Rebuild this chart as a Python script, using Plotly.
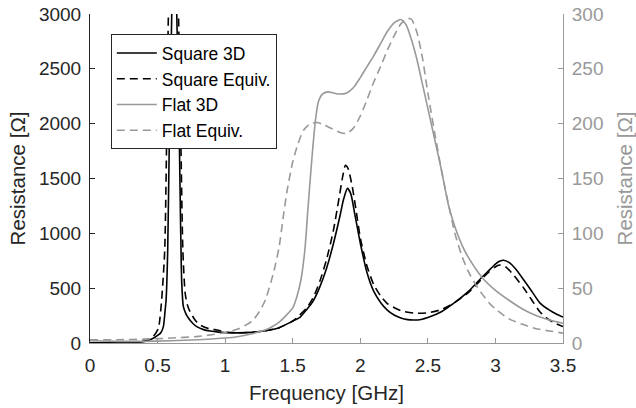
import plotly.graph_objects as go

# ---------------- data ----------------
sq3d_f = [0.0,0.1,0.2,0.3,0.36,0.395,0.44,0.48,0.506,0.525,0.543,0.556,0.563,0.575,0.587,
          0.605,0.614,0.623,0.632,0.642,0.661,0.670,0.679,0.691,0.71,0.728,0.76,0.79,0.84,0.89,
          0.95,1.01,1.1,1.2,1.3,1.4,1.5,1.556,1.6,1.65,1.7,1.75,1.8,1.85,1.875,
          1.905,1.93,1.96,2.0,2.05,2.1,2.15,2.2,2.25,2.3,2.35,2.4,2.45,2.5,2.6,
          2.7,2.8,2.9,2.95,3.0,3.03,3.06,3.1,3.15,3.21,3.27,3.33,3.4,3.45,3.5]
sq3d_r = [2,2,3,4,6,12,27,52,73,95,149,300,392,848,1851,
          3000,4200,4800,4200,3000,1851,1100,544,331,265,228,180,149,122,109,
          99,94,92,97,112,140,200,237,300,380,510,680,900,1160,1304,
          1410,1360,1170,912,640,470,370,300,255,228,213,210,215,232,285,
          370,470,600,660,720,745,755,735,675,574,470,364,300,265,237]

sqeq_f = [0.0,0.1,0.2,0.3,0.36,0.42,0.47,0.506,0.53,0.553,0.567,0.58,0.6,0.617,0.635,
          0.655,0.672,0.687,0.704,0.72,0.74,0.78,0.815,0.88,0.94,1.01,1.1,1.2,1.3,1.4,
          1.5,1.6,1.65,1.7,1.75,1.8,1.84,1.87,1.89,1.91,1.94,1.97,2.0,2.05,2.1,
          2.15,2.2,2.3,2.4,2.5,2.6,2.7,2.8,2.9,2.95,3.0,3.03,3.07,3.12,3.21,
          3.27,3.33,3.4,3.45,3.5]
sqeq_r = [2,2,3,4,7,27,64,134,392,848,1851,3000,4300,5000,4300,
          3000,1851,848,456,350,286,205,164,130,118,100,94,98,112,140,
          200,315,410,560,760,1020,1300,1520,1620,1590,1430,1200,960,700,530,
          430,360,295,272,275,305,370,460,585,645,695,711,700,640,500,
          390,283,210,175,150]

fl3d_f = [0.0,0.2,0.4,0.6,0.8,1.0,1.1,1.2,1.3,1.35,1.4,1.45,1.5,1.53,1.56,
          1.59,1.61,1.63,1.65,1.67,1.69,1.72,1.76,1.8,1.85,1.9,1.95,2.0,2.05,2.1,
          2.15,2.2,2.25,2.3,2.34,2.38,2.42,2.46,2.5,2.55,2.6,2.65,2.7,2.75,2.8,
          2.9,3.0,3.1,3.2,3.3,3.4,3.5]
fl3d_r = [2,1.5,1.5,2,3,4.5,6,8.5,12,15,19,25,32,42,57,
          85,118,150,180,205,220,227,229,228,227,228,233,242,252,262,
          273,284,292,295,290,276,258,236,214,186,158,127,106,90,78,
          60,48,39,31,25,21,18]

fleq_f = [0.0,0.2,0.4,0.6,0.8,0.9,1.0,1.1,1.2,1.26,1.3,1.36,1.4,1.43,1.46,
          1.5,1.54,1.58,1.63,1.68,1.73,1.78,1.85,1.9,1.95,2.0,2.05,2.1,2.15,2.2,
          2.25,2.3,2.35,2.38,2.42,2.46,2.5,2.55,2.6,2.65,2.7,2.75,2.8,2.85,2.9,
          2.95,3.0,3.1,3.2,3.3,3.4,3.5]
fleq_r = [3,3,3.5,4.5,6,7.5,9.5,13,20,30,40,65,88,115,140,
          165,182,194,200,201,199,196,192,191,196,207,222,238,252,267,
          280,291,296,295,283,260,228,192,158,128,100,80,65,54,45,
          37,31,22,17,13,11,9]

x_ticks = [0, 0.5, 1, 1.5, 2, 2.5, 3, 3.5]
x_ticktext = ["0", "0.5", "1", "1.5", "2", "2.5", "3", "3.5"]
yl_ticks = [0, 500, 1000, 1500, 2000, 2500, 3000]
yr_ticks = [0, 50, 100, 150, 200, 250, 300]

# ---------------- styling ----------------
FONT = "Liberation Sans, Arial, Helvetica, sans-serif"
DARK = "#262626"
GRAY = "#999999"
FS_TICK = 19
FS_TITLE = 20.5
FS_LEG = 17.5
LW = 1.6

fig = go.Figure()
fig.add_trace(go.Scatter(x=sq3d_f, y=sq3d_r, name="Square 3D", mode="lines",
                         line=dict(color="black", width=LW, shape="spline", smoothing=0.6),
                         yaxis="y"))
fig.add_trace(go.Scatter(x=sqeq_f, y=sqeq_r, name="Square Equiv.", mode="lines",
                         line=dict(color="black", width=LW, dash="8px,5px", shape="spline", smoothing=0.6),
                         yaxis="y"))
fig.add_trace(go.Scatter(x=fl3d_f, y=fl3d_r, name="Flat 3D", mode="lines",
                         line=dict(color=GRAY, width=LW, shape="spline", smoothing=0.6),
                         yaxis="y2"))
fig.add_trace(go.Scatter(x=fleq_f, y=fleq_r, name="Flat Equiv.", mode="lines",
                         line=dict(color=GRAY, width=LW, dash="8px,5px", shape="spline", smoothing=0.6),
                         yaxis="y2"))

fig.update_layout(
    width=636, height=408, autosize=False,
    margin=dict(l=90, r=73, t=14, b=65),
    paper_bgcolor="white", plot_bgcolor="white",
    font=dict(family=FONT, size=FS_TICK, color=DARK),
    xaxis=dict(range=[0, 3.5], tickvals=x_ticks, ticktext=x_ticktext, automargin=False,
               ticks="inside", ticklen=5, tickcolor=GRAY, tickwidth=1,
               showline=True, linecolor=GRAY, linewidth=1,
               showgrid=False, zeroline=False,
               tickfont=dict(size=FS_TICK, color=DARK), ticklabelstandoff=5,
               title=dict(text="Frequency [GHz]", font=dict(size=FS_TITLE, color=DARK), standoff=10)),
    xaxis2=dict(range=[0, 3.5], tickvals=x_ticks, overlaying="x", side="top", automargin=False,
                ticks="inside", ticklen=5, tickcolor=DARK, tickwidth=1,
                showline=True, linecolor=DARK, linewidth=1,
                showgrid=False, zeroline=False, showticklabels=False),
    yaxis=dict(range=[0, 3000], tickvals=yl_ticks, automargin=False,
               ticks="inside", ticklen=5, tickcolor=DARK, tickwidth=1,
               showline=True, linecolor=DARK, linewidth=1,
               showgrid=False, zeroline=False,
               tickfont=dict(size=FS_TICK, color=DARK), ticklabelstandoff=4,
               title=dict(text="Resistance [Ω]", font=dict(size=FS_TITLE, color=DARK), standoff=7)),
    yaxis2=dict(range=[0, 300], tickvals=yr_ticks, overlaying="y", side="right", automargin=False,
                ticks="inside", ticklen=5, tickcolor=GRAY, tickwidth=1,
                showline=True, linecolor=GRAY, linewidth=1,
                showgrid=False, zeroline=False,
                tickfont=dict(size=FS_TICK, color=GRAY), ticklabelstandoff=4,
                title=dict(text="Resistance [Ω]", font=dict(size=FS_TITLE, color=GRAY), standoff=16)),
    legend=dict(x=0.044, y=0.939, xanchor="left", yanchor="top",
                bgcolor="white", bordercolor=DARK, borderwidth=1,
                font=dict(size=FS_LEG, color="black"), itemwidth=40,
                tracegroupgap=0),
    showlegend=True,
)

fig.write_html("out.html")
